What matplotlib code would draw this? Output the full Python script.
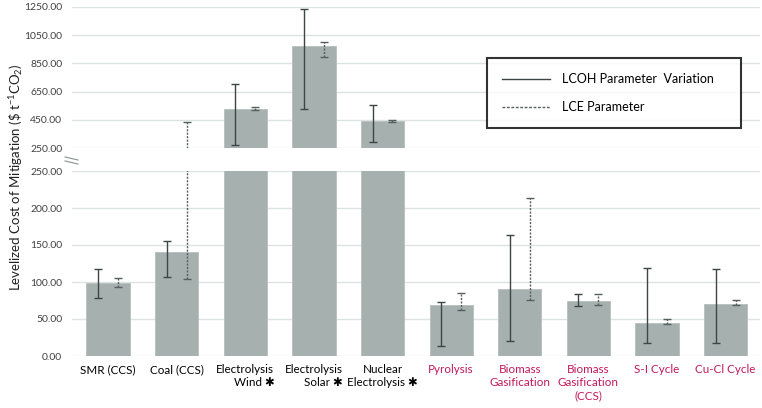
import matplotlib
matplotlib.use("Agg")
import matplotlib.pyplot as plt
from matplotlib.lines import Line2D
import numpy as np

plt.rcParams['font.family'] = ['Lato', 'DejaVu Sans']
plt.rcParams['mathtext.fontset'] = 'custom'
plt.rcParams['mathtext.rm'] = 'Lato'
plt.rcParams['mathtext.it'] = 'Lato:italic'

categories = ["SMR (CCS)", "Coal (CCS)", "Electrolysis\nWind \u2731", "Electrolysis\nSolar \u2731",
              "Nuclear\nElectrolysis \u2731", "Pyrolysis", "Biomass\nGasification",
              "Biomass\nGasification\n(CCS)", "S-I Cycle", "Cu-Cl Cycle"]
label_colors = ["black"] * 5 + ["#c2185b"] * 5
label_align = ["center", "center", "right", "right", "center",
               "center", "center", "center", "center", "center"]
values = [99, 140, 529, 971, 440, 69, 91, 74, 45, 70]
lcoh_low = [78, 107, 269, 529, 295, 13, 20, 68, 17, 17]
lcoh_high = [118, 156, 706, 1233, 555, 73, 163, 84, 119, 118]
lce_low = [93, 104.5, 520, 898, 432, 62, 76, 68.5, 43, 68.5]
lce_high = [105, 434, 543, 1002, 449, 85, 213, 84, 50, 76]
top_ticks = [250, 450, 650, 850, 1050, 1250]
bottom_ticks = [0, 50, 100, 150, 200, 250]

bar_color = "#a6b1af"
err_color = "#3c4646"
grid_color = "#dde2e2"
W, H = 762, 408
fig = plt.figure(figsize=(W / 100, H / 100), dpi=100)

left = 72 / W
width = 688 / W
ax_top = fig.add_axes([left, 1 - 148 / H, width, (148 - 7) / H])
ax_bot = fig.add_axes([left, 1 - 356 / H, width, (356 - 171) / H])

x = np.arange(len(categories))
off = 0.145
lcoh_low = np.array(lcoh_low); lcoh_high = np.array(lcoh_high)
lce_low = np.array(lce_low); lce_high = np.array(lce_high)

for ax in (ax_top, ax_bot):
    ax.bar(x, values, width=0.63, color=bar_color, edgecolor="#b7c0be", linewidth=0.6, zorder=2)
    e1 = ax.errorbar(x - off, (lcoh_low + lcoh_high) / 2, yerr=(lcoh_high - lcoh_low) / 2,
                     fmt='none', ecolor=err_color, elinewidth=1.0, capsize=2.8, capthick=1.0, zorder=3)
    e2 = ax.errorbar(x + off, (lce_low + lce_high) / 2, yerr=(lce_high - lce_low) / 2,
                     fmt='none', ecolor="#555f5f", elinewidth=1.0, capsize=2.8, capthick=1.0, zorder=3)
    e2[2][0].set_linestyle((0, (1.5, 1)))
    ax.set_xlim(-0.525, 9.5)
    for s in ax.spines.values():
        s.set_visible(False)
    ax.yaxis.grid(True, color=grid_color, linewidth=1.0, zorder=0)
    ax.set_axisbelow(True)
    ax.tick_params(axis='y', length=0, labelsize=7.5, labelcolor="#404040", pad=7)
    ax.tick_params(axis='x', length=0)

ax_top.set_ylim(250, 1250)
ax_top.set_yticks(top_ticks)
ax_top.set_yticklabels([f"{t:.2f}" for t in top_ticks])
ax_top.set_xticks([])

ax_bot.set_ylim(0, 250)
ax_bot.set_yticks(bottom_ticks)
ax_bot.set_yticklabels([f"{t:.2f}" for t in bottom_ticks])
ax_bot.set_xticks(x)
ax_bot.set_xticklabels(categories, fontsize=8.4, va='top')
for lbl, c, al in zip(ax_bot.get_xticklabels(), label_colors, label_align):
    lbl.set_color(c)
    lbl.set_multialignment(al)
ax_bot.tick_params(axis='x', pad=6)

# break marker
for dy in (0, 4):
    fig.add_artist(Line2D([65 / W, 78 / W], [1 - (157 + dy) / H, 1 - (160 + dy) / H],
                          color="#8a9292", linewidth=0.8))

fig.text(16 / W, 1 - 177 / H, r"Levelized Cost of Mitigation (\$ t$^{-1}$CO$_2$)",
         rotation=90, ha='center', va='center', fontsize=9.5, color="#202020")

handles = [Line2D([], [], color=err_color, linewidth=1.0),
           Line2D([], [], color="#555f5f", linewidth=1.0, linestyle=(0, (2, 1.2)))]
leg = fig.legend(handles, ["LCOH Parameter  Variation", "LCE Parameter"],
                 loc='upper left', bbox_to_anchor=(487 / W, 1 - 58 / H, 254 / W, 0.0),
                 mode='expand', fontsize=9, frameon=True, fancybox=False, edgecolor='black',
                 handlelength=3.8, handletextpad=1.0, labelspacing=1.3, borderpad=1.2,
                 borderaxespad=0)
leg.get_frame().set_linewidth(1.5)

fig.savefig("out.png", dpi=100)
